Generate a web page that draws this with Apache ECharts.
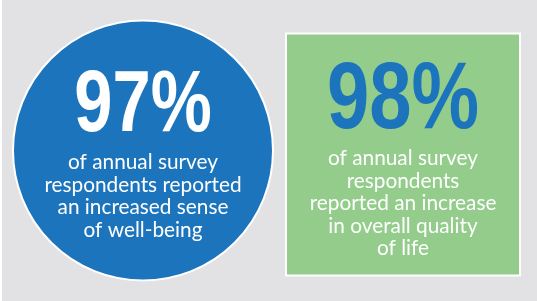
<!DOCTYPE html>
<html>
<head>
<meta charset="utf-8">
<script src="https://cdn.jsdelivr.net/npm/echarts@6/dist/echarts.min.js"></script>
<style>
  html, body { margin: 0; padding: 0; background: #e2e2e4; }
  #chart { width: 537px; height: 301px; }
</style>
</head>
<body>
<div id="chart"></div>
<script>
// data
const categories = ['well-being', 'quality of life'];
const percents = [97, 98];
const captions = [
  ['of annual survey', 'respondents reported', 'an increased sense', 'of well-being'],
  ['of annual survey', 'respondents', 'reported an increase', 'in overall quality', 'of life']
];

// per shape look (not data)
const looks = [
  { shape: 'circle', fill: '#1c75bc', numColor: '#ffffff', dy: 0, numY: -44, numSize: 88, numScale: 0.78, capY: 12 },
  { shape: 'rect', fill: '#93cc8b', numColor: '#1c75bc', dy: 4, numY: -53, numSize: 95, numScale: 0.8, capY: 4 }
];

const chart = echarts.init(document.getElementById('chart'));

chart.setOption({
  backgroundColor: '#e2e2e4',
  animation: false,
  grid: { left: 13, right: 4, top: 0, bottom: 0 },
  xAxis: { type: 'category', data: categories, show: false },
  yAxis: { type: 'value', min: -1, max: 1, show: false },
  graphic: [
    { type: 'rect', shape: { x: 0, y: 0, width: 2, height: 301 }, style: { fill: '#ffffff' }, z: -10 }
  ],
  series: [{
    type: 'custom',
    data: percents.map((p, i) => [i, 0, p]),
    renderItem: function (params, api) {
      const i = params.dataIndex;
      const look = looks[i];
      const c = api.coord([api.value(0), api.value(1)]);
      const cx = c[0];
      const cy = c[1] + look.dy;
      const children = [];
      if (look.shape === 'circle') {
        children.push({
          type: 'circle',
          shape: { cx: cx, cy: cy, r: 130 },
          style: { fill: look.fill, stroke: '#ffffff', lineWidth: 2 }
        });
      } else {
        children.push({
          type: 'rect',
          shape: { x: cx - 117, y: cy - 121, width: 234, height: 242 },
          style: { fill: look.fill, stroke: '#ffffff', lineWidth: 2 }
        });
      }
      // big percentage, squeezed to look condensed
      children.push({
        type: 'text',
        x: cx, y: cy + look.numY,
        scaleX: look.numScale,
        style: {
          text: api.value(2) + '%',
          x: 0, y: 0,
          align: 'center', verticalAlign: 'middle',
          fill: look.numColor,
          font: 'bold ' + look.numSize + 'px "Liberation Sans", Arial, sans-serif'
        }
      });
      const lines = captions[i];
      const lh = 22.5;
      lines.forEach((t, k) => {
        children.push({
          type: 'text',
          style: {
            text: t,
            x: cx, y: cy + look.capY + k * lh,
            align: 'center', verticalAlign: 'middle',
            fill: '#ffffff',
            font: '20.8px Lato, sans-serif'
          }
        });
      });
      return { type: 'group', children: children };
    }
  }]
});
</script>
</body>
</html>
